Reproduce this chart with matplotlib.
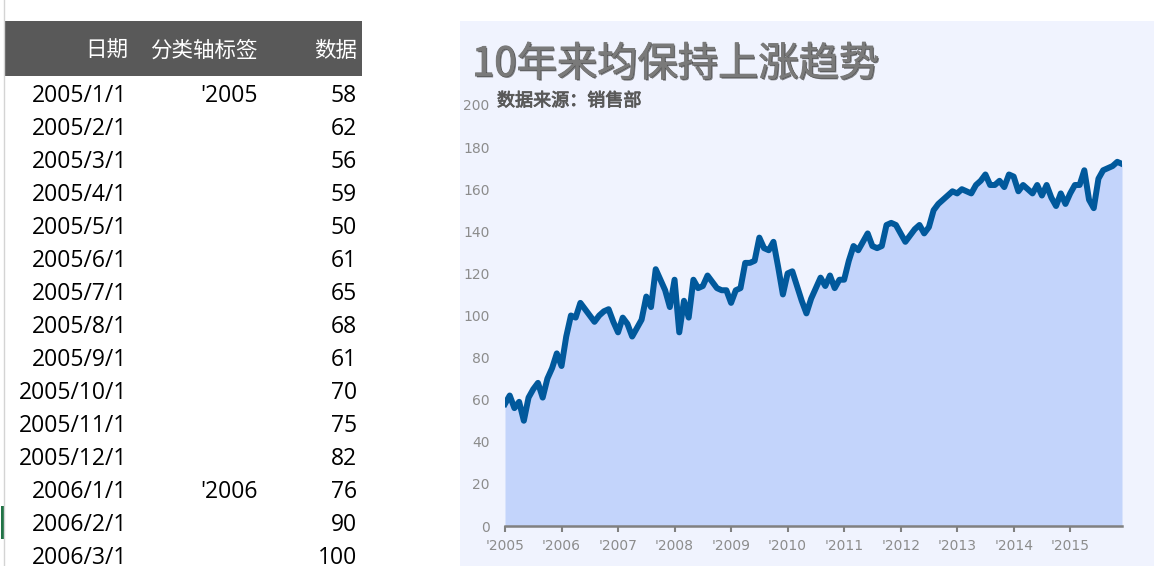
import matplotlib
matplotlib.use("Agg")
import matplotlib.pyplot as plt
import matplotlib.patheffects as pe
from matplotlib.patches import Rectangle

# monthly sales, 2005/1 .. 2015/12
years = list(range(2005, 2016))
values = [
    58, 62, 56, 59, 50, 61, 65, 68, 61, 70, 75, 82,
    76, 90, 100, 99, 106, 103, 100, 97, 100, 102, 103, 97,
    92, 99, 96, 90, 94, 98, 109, 104, 122, 117, 112, 104,
    117, 92, 107, 99, 117, 113, 114, 119, 116, 113, 112, 112,
    106, 112, 113, 125, 125, 126, 137, 132, 131, 135, 123, 110,
    120, 121, 114, 107, 101, 108, 113, 118, 114, 119, 113, 117,
    117, 126, 133, 131, 135, 139, 133, 132, 133, 143, 144, 143,
    139, 135, 138, 141, 143, 139, 142, 150, 153, 155, 157, 159,
    158, 160, 159, 158, 162, 164, 167, 162, 162, 164, 161, 167,
    166, 159, 162, 160, 158, 162, 157, 162, 156, 152, 158, 153,
    158, 162, 162, 169, 155, 151, 165, 169, 170, 171, 173, 172,
]
headers = ["日期", "分类轴标签", "数据"]
title = "10年来均保持上涨趋势"
subtitle = "数据来源：销售部"
shown_rows = 15

dates = [f"{y}/{m}/1" for y in years for m in range(1, 13)]
cat_labels = [f"'{y}" if m == 1 else "" for y in years for m in range(1, 13)]

W, H = 1162, 566
fig = plt.figure(figsize=(W / 100, H / 100), dpi=100)
fig.patch.set_facecolor("white")

# pixel-space canvas for the sheet and chart frame
bg = fig.add_axes([0, 0, 1, 1])
bg.set_xlim(0, W)
bg.set_ylim(H, 0)
bg.axis("off")

cjk = ["Noto Sans CJK SC", "DejaVu Sans"]
cell_font = ["Open Sans", "Noto Sans CJK SC"]

# sheet: left border, selection mark, header bar
bg.plot([4, 4], [0, H], color="#d4d4d4", lw=1)
bg.add_patch(Rectangle((1, 506), 3, 33, color="#217346", lw=0))
bg.add_patch(Rectangle((5, 21), 357, 55, color="#595959", lw=0))

col_right = [128, 258, 357]
for txt, xr in zip(headers, col_right):
    bg.text(xr, 57, txt, ha="right", va="baseline", color="white",
            fontsize=15.5, family=cjk)

for k in range(shown_rows):
    yb = 101.8 + 33 * k
    bg.text(127, yb, dates[k], ha="right", va="baseline", fontsize=16.5,
            family=cell_font, color="black")
    if cat_labels[k]:
        bg.text(258, yb, cat_labels[k], ha="right", va="baseline",
                fontsize=16.5, family=cell_font, color="black")
    bg.text(357, yb, str(values[k]), ha="right", va="baseline",
            fontsize=16.5, family=cell_font, color="black")

# chart frame
bg.add_patch(Rectangle((460, 21), 694, H - 21, color="#F0F3FE", lw=0))
bg.text(472, 76, title, ha="left", va="baseline", fontsize=29,
        color="#7a7a7a", family=cjk,
        path_effects=[pe.Stroke(linewidth=0.8, foreground="#7a7a7a"),
                      pe.withSimplePatchShadow(offset=(1.0, -1.0),
                                               shadow_rgbFace="#2a2a2a",
                                               alpha=0.6),
                      pe.Normal()])
bg.text(497, 106, subtitle, ha="left", va="baseline", fontsize=13,
        color="#595959", family=cjk,
        path_effects=[pe.Stroke(linewidth=0.6, foreground="#595959"),
                      pe.Normal()])

# plot area
ax = fig.add_axes([505 / W, (H - 526) / H, 617 / W, 421 / H])
ax.patch.set_alpha(0)
x = list(range(len(values)))
ax.fill_between(x, 0, values, color="#C3D4FB", lw=0)
ax.plot(x, values, color="#01599C", lw=4.3, solid_joinstyle="round")
ax.set_xlim(0, len(values) - 1)
ax.set_ylim(0, 200)

ax.set_yticks(range(0, 201, 20))
xt = list(range(0, len(values), 12))
ax.set_xticks(xt)
ax.set_xticklabels([cat_labels[i] for i in xt])
ax.tick_params(axis="y", length=0, pad=11, labelcolor="#8c8c8c", labelsize=10)
ax.tick_params(axis="x", length=4, width=1.5, color="#808080", pad=5,
               labelcolor="#8c8c8c", labelsize=10)
for side in ["left", "right", "top"]:
    ax.spines[side].set_visible(False)
ax.spines["bottom"].set_color("#808080")
ax.spines["bottom"].set_linewidth(1.8)

fig.savefig("out.png", dpi=100)
